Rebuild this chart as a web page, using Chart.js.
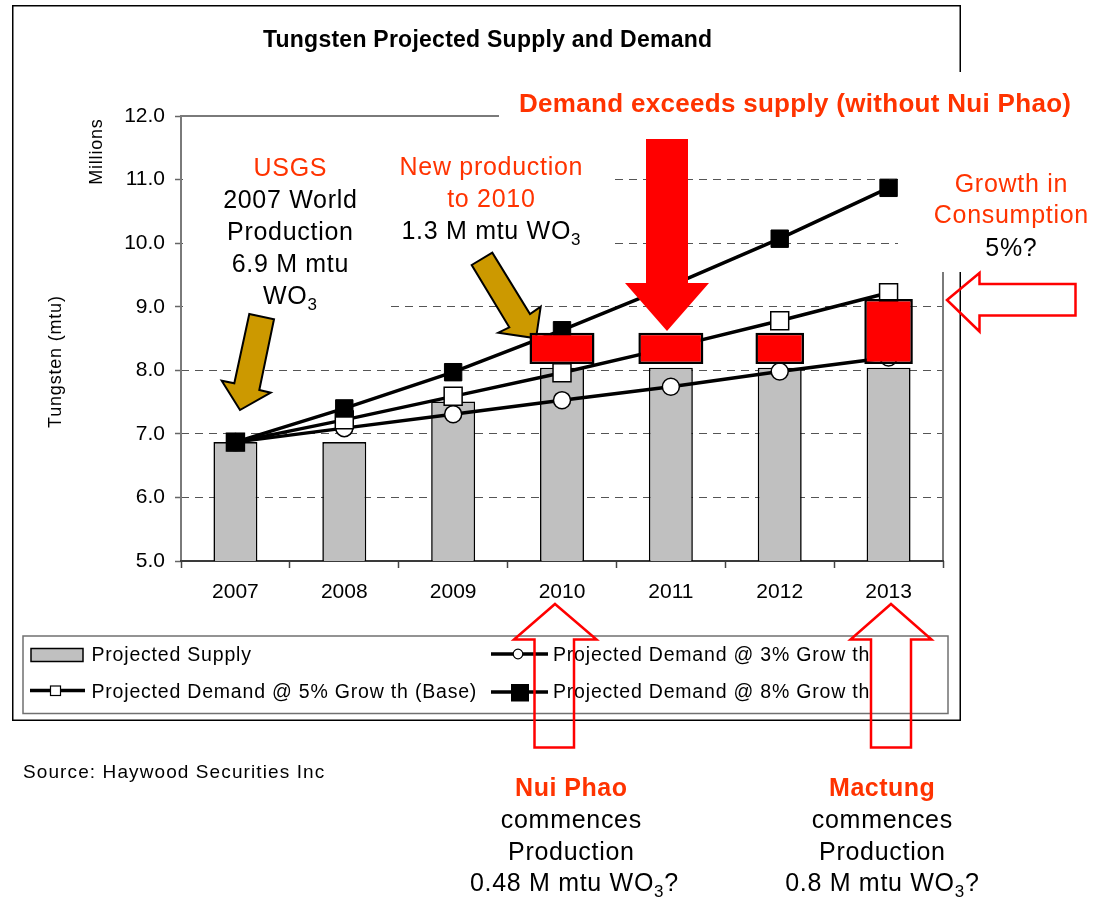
<!DOCTYPE html>
<html>
<head>
<meta charset="utf-8">
<script src="https://cdn.jsdelivr.net/npm/chart.js@4.4.1/dist/chart.umd.min.js"></script>
<style>
html,body{margin:0;padding:0;background:#fff;}
canvas{display:block;}
</style>
</head>
<body>
<canvas id="c" width="1105" height="898"></canvas>
<script>
// ---------------- data ----------------
const years = ['2007', '2008', '2009', '2010', '2011', '2012', '2013'];
const yTickValues = [5, 6, 7, 8, 9, 10, 11, 12];
const projectedSupply = [6.87, 6.87, 7.51, 8.04, 8.04, 8.04, 8.04];
const demand3 = [6.87, 7.09, 7.31, 7.53, 7.74, 7.98, 8.20];
const demand5 = [6.87, 7.22, 7.59, 7.96, 8.36, 8.78, 9.22];
const demand8 = [6.87, 7.40, 7.97, 8.63, 9.33, 10.07, 10.87];
const shortfallWide = [null, null, null, [8.10, 8.59], [8.10, 8.59], null, null];
const shortfallNarrow = [null, null, null, null, null, [8.10, 8.59], [8.10, 9.12]];
const seriesNames = ['Projected Supply', 'Projected Demand @ 3% Grow th',
  'Projected Demand @ 5% Grow th (Base)', 'Projected Demand @ 8% Grow th'];

// ---------------- styling / annotation geometry ----------------
const FONT = "'Liberation Sans', Arial, Helvetica, sans-serif";
const RED_TEXT = '#FF3300';
const TEXT_BOXES = [[183, 135, 204, 180], [387, 140, 224, 118], [499, 72, 600, 58], [898, 130, 201, 142]];
const GOLD_ARROW_1 = [[249.3,314],[274,319.3],[259.3,390],[270.7,392.7],[240,410],[221.7,380.7],[234.3,383.3]];
const GOLD_ARROW_2 = [[471.7,265],[492.3,252.7],[530,314],[540.7,306.7],[536,338.3],[498.3,332.7],[509.3,327.3]];
const RED_ARROW = [[646,139],[688,139],[688,283],[709,283],[667,331],[625,283],[646,283]];
const RIGHT_ARROW = [[947,300],[979.5,273],[979.5,284],[1075.5,284],[1075.5,315.5],[979.5,315.5],[979.5,331.5]];
const UP_ARROW_1 = [[555,604],[596.5,639.5],[574,639.5],[574,747.5],[534.5,747.5],[534.5,639.5],[514,639.5]];
const UP_ARROW_2 = [[891,604],[931.5,639.5],[911,639.5],[911,747.5],[871,747.5],[871,639.5],[850.5,639.5]];

function setFont(c, size, bold) { c.font = (bold ? 'bold ' : '') + size + 'px ' + FONT; }
function poly(c, pts) {
  c.beginPath(); c.moveTo(pts[0][0], pts[0][1]);
  for (let i = 1; i < pts.length; i++) c.lineTo(pts[i][0], pts[i][1]);
  c.closePath();
}
// parts: [text, isSubscript]
function rich(c, parts, x, base, size, bold, color, ls, align) {
  c.save();
  c.letterSpacing = ls + 'px';
  c.fillStyle = color; c.textBaseline = 'alphabetic'; c.textAlign = 'left';
  const sub = Math.round(size * 0.68);
  const ws = []; let w = 0;
  parts.forEach(p => { setFont(c, p[1] ? sub : size, bold); const m = c.measureText(p[0]).width; ws.push(m); w += m; });
  let px = align === 'left' ? x : x - (w - ls) / 2;
  parts.forEach((p, i) => { setFont(c, p[1] ? sub : size, bold); c.fillText(p[0], px, base + (p[1] ? 6 : 0)); px += ws[i]; });
  c.restore();
}
function line(c, x1, y1, x2, y2) { c.beginPath(); c.moveTo(x1, y1); c.lineTo(x2, y2); c.stroke(); }

const ANN = 25, ANN_LS = 0.7;
const LEG = 19.5, LEG_LS = 0.8;

const annot = {
  id: 'annot',
  beforeDraw(chart) {
    const c = chart.ctx; c.save(); c.fillStyle = '#fff'; c.fillRect(0, 0, chart.width, chart.height); c.restore();
  },
  beforeDatasetsDraw(chart) {
    const c = chart.ctx, a = chart.chartArea;
    c.save();
    c.strokeStyle = '#000'; c.lineWidth = 1.5;
    c.strokeRect(12.75, 5.75, 947.5, 714.5);
    c.strokeStyle = '#7a7a7a'; c.lineWidth = 2;
    c.beginPath(); c.moveTo(a.left, a.bottom); c.lineTo(a.left, a.top); c.lineTo(a.right, a.top); c.lineTo(a.right, a.bottom); c.stroke();
    c.strokeStyle = '#3a3a3a';
    line(c, a.left - 1, a.bottom, a.right + 1, a.bottom);
    c.fillStyle = '#fff';
    TEXT_BOXES.forEach(b => c.fillRect(b[0], b[1], b[2], b[3]));
    c.fillStyle = '#CC9900'; c.strokeStyle = '#000'; c.lineWidth = 2; c.lineJoin = 'miter';
    [GOLD_ARROW_1, GOLD_ARROW_2].forEach(p => { poly(c, p); c.fill(); c.stroke(); });
    c.restore();
  },
  afterDatasetsDraw(chart) {
    const c = chart.ctx;
    c.save();
    c.fillStyle = '#FF0000';
    poly(c, RED_ARROW); c.fill();
    c.restore();
  },
  afterDraw(chart) {
    const c = chart.ctx;
    rich(c, [['Tungsten Projected Supply and Demand']], 487.5, 46.5, 23, true, '#000', 0.25);
    rich(c, [['Demand exceeds supply (without Nui Phao)']], 795, 111.7, 26, true, RED_TEXT, 0.3);
    rich(c, [['USGS']], 290, 176, ANN, false, RED_TEXT, ANN_LS);
    rich(c, [['2007 World']], 290, 207.5, ANN, false, '#000', ANN_LS);
    rich(c, [['Production']], 290, 239.5, ANN, false, '#000', ANN_LS);
    rich(c, [['6.9 M mtu']], 290, 272, ANN, false, '#000', ANN_LS);
    rich(c, [['WO'], ['3', true]], 290, 304, ANN, false, '#000', ANN_LS);
    rich(c, [['New production']], 491, 175, ANN, false, RED_TEXT, ANN_LS);
    rich(c, [['to 2010']], 491, 207.3, ANN, false, RED_TEXT, ANN_LS);
    rich(c, [['1.3 M mtu WO'], ['3', true]], 491, 239.3, ANN, false, '#000', ANN_LS);
    rich(c, [['Growth in']], 1011, 191.7, ANN, false, RED_TEXT, ANN_LS);
    rich(c, [['Consumption']], 1011, 223.3, ANN, false, RED_TEXT, ANN_LS);
    rich(c, [['5%?']], 1011, 256, ANN, false, '#000', ANN_LS);
    rich(c, [['Nui Phao']], 571, 795.7, 25, true, RED_TEXT, 0.5);
    rich(c, [['commences']], 571, 827.5, ANN, false, '#000', ANN_LS);
    rich(c, [['Production']], 571, 859.5, ANN, false, '#000', ANN_LS);
    rich(c, [['0.48 M mtu WO'], ['3', true], ['?']], 574, 891, ANN, false, '#000', ANN_LS);
    rich(c, [['Mactung']], 882, 795.7, 25, true, RED_TEXT, 0.5);
    rich(c, [['commences']], 882, 827.5, ANN, false, '#000', ANN_LS);
    rich(c, [['Production']], 882, 859.5, ANN, false, '#000', ANN_LS);
    rich(c, [['0.8 M mtu WO'], ['3', true], ['?']], 882, 891, ANN, false, '#000', ANN_LS);
    rich(c, [['Source: Haywood Securities Inc']], 23, 778, 19, false, '#000', 1.1, 'left');
    c.save();
    c.translate(61, 362); c.rotate(-Math.PI / 2);
    rich(c, [['Tungsten (mtu)']], 0, 0, 18, false, '#000', 0.8);
    c.restore();
    c.save();
    c.translate(102, 152); c.rotate(-Math.PI / 2);
    rich(c, [['Millions']], 0, 0, 18, false, '#000', 0.8);
    c.restore();
    // legend
    c.save();
    c.strokeStyle = '#707070'; c.lineWidth = 1.5; c.strokeRect(23, 636, 925, 77.5);
    c.fillStyle = '#C0C0C0'; c.fillRect(31, 648.5, 52, 13);
    c.strokeStyle = '#000'; c.lineWidth = 1.5; c.strokeRect(31, 648.5, 52, 13);
    c.lineWidth = 3.5; line(c, 30, 690.5, 85, 690.5);
    c.fillStyle = '#fff'; c.fillRect(50.5, 686, 10, 9.5); c.lineWidth = 1.2; c.strokeRect(50.5, 686, 10, 9.5);
    c.lineWidth = 3.5; line(c, 491, 654, 548, 654);
    c.beginPath(); c.arc(518, 654, 4.8, 0, Math.PI * 2); c.fillStyle = '#fff'; c.fill(); c.lineWidth = 1.2; c.stroke();
    c.lineWidth = 3.5; line(c, 491, 692, 548, 692);
    c.fillStyle = '#000'; c.fillRect(511, 684, 18, 17.5);
    c.restore();
    rich(c, [[seriesNames[0]]], 91.5, 661, LEG, false, '#000', LEG_LS, 'left');
    rich(c, [[seriesNames[2]]], 91.5, 698, LEG, false, '#000', LEG_LS, 'left');
    rich(c, [[seriesNames[1]]], 553, 661, LEG, false, '#000', LEG_LS, 'left');
    rich(c, [[seriesNames[3]]], 553, 698, LEG, false, '#000', LEG_LS, 'left');
    c.save();
    c.strokeStyle = '#FF0000'; c.lineWidth = 2.5; c.lineJoin = 'miter';
    [RIGHT_ARROW, UP_ARROW_1, UP_ARROW_2].forEach(p => { poly(c, p); c.stroke(); });
    c.restore();
  }
};

Chart.defaults.font.family = FONT;
Chart.defaults.color = '#000';

new Chart(document.getElementById('c').getContext('2d'), {
  type: 'bar',
  data: {
    labels: years,
    datasets: [
      { type: 'bar', label: seriesNames[0], data: projectedSupply, backgroundColor: '#C0C0C0', borderColor: '#000',
        borderWidth: 1.6, borderSkipped: false, barPercentage: 0.404, categoryPercentage: 1, grouped: false, order: 4 },
      { type: 'bar', label: 'Shortfall', data: shortfallWide, backgroundColor: '#FF0000', borderColor: '#000',
        borderWidth: 2.5, borderSkipped: false, barPercentage: 0.597, categoryPercentage: 1, grouped: false, order: 0 },
      { type: 'bar', label: 'Shortfall', data: shortfallNarrow, backgroundColor: '#FF0000', borderColor: '#000',
        borderWidth: 2.5, borderSkipped: false, barPercentage: 0.446, categoryPercentage: 1, grouped: false, order: 0 },
      { type: 'line', label: seriesNames[3], data: demand8, borderColor: '#000', borderWidth: 3.5, tension: 0, fill: false,
        pointStyle: 'rect', pointRadius: 12.3, pointBackgroundColor: '#000', pointBorderColor: '#000', pointBorderWidth: 1, order: 1 },
      { type: 'line', label: seriesNames[2], data: demand5, borderColor: '#000', borderWidth: 3.5, tension: 0, fill: false,
        pointStyle: 'rect', pointRadius: 12.7, pointBackgroundColor: '#fff', pointBorderColor: '#000', pointBorderWidth: 1.5, order: 2 },
      { type: 'line', label: seriesNames[1], data: demand3, borderColor: '#000', borderWidth: 3.5, tension: 0, fill: false,
        pointStyle: 'circle', pointRadius: 8.5, pointBackgroundColor: '#fff', pointBorderColor: '#000', pointBorderWidth: 1.5, order: 3 }
    ]
  },
  options: {
    responsive: false,
    animation: false,
    devicePixelRatio: 1,
    events: [],
    layout: { padding: { top: 116, right: 162, bottom: 0, left: 0 } },
    plugins: { legend: { display: false }, title: { display: false }, tooltip: { enabled: false } },
    scales: {
      x: {
        type: 'category',
        offset: true,
        afterFit(s) { s.height = 337; },
        grid: { offset: true, drawOnChartArea: false, drawTicks: true, tickLength: 7, tickColor: '#444', tickWidth: 1.5 },
        border: { display: false },
        ticks: { font: { size: 21 }, color: '#000', padding: 12, maxRotation: 0, autoSkip: false }
      },
      y: {
        min: 5, max: 12,
        afterFit(s) { s.width = 181; },
        afterBuildTicks(s) { s.ticks = yTickValues.map(v => ({ value: v })); },
        grid: {
          drawOnChartArea: true, drawTicks: true, tickLength: 6, tickWidth: 1.5, tickColor: '#666', lineWidth: 1,
          color: ctx => (ctx.tick && (ctx.tick.value === 5 || ctx.tick.value === 12)) ? 'rgba(0,0,0,0)' : '#555'
        },
        border: { display: false, dash: [8, 6] },
        ticks: { font: { size: 21 }, color: '#000', padding: 10, callback: v => Number(v).toFixed(1) }
      }
    }
  },
  plugins: [annot]
});
</script>
</body>
</html>
